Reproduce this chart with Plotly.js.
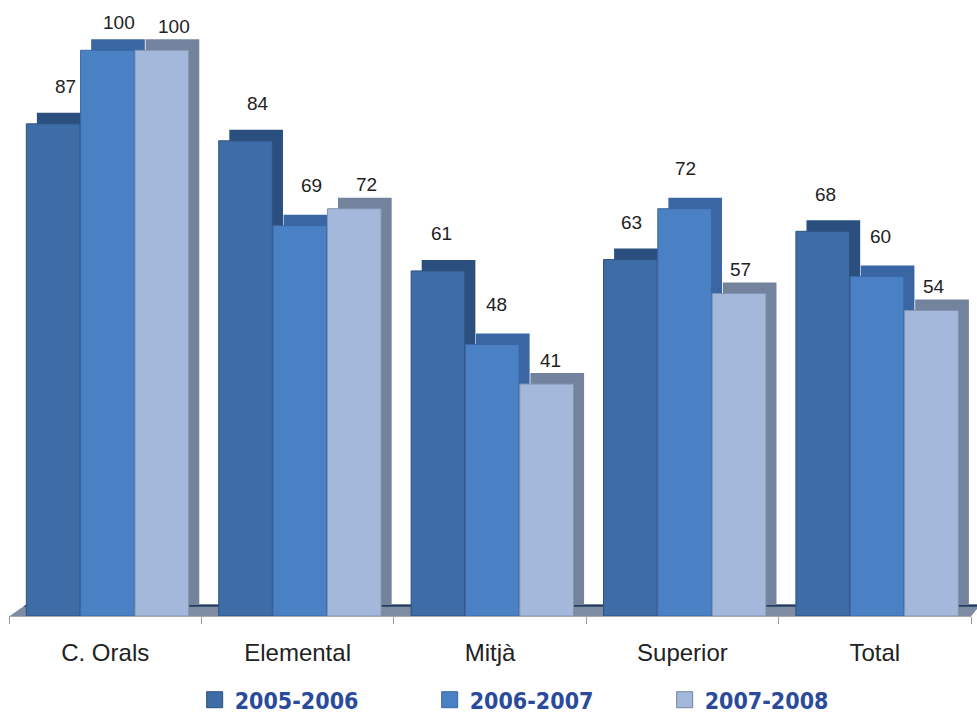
<!DOCTYPE html>
<html>
<head>
<meta charset="utf-8">
<script src="https://cdn.plot.ly/plotly-3.0.1.min.js"></script>
<style>html,body{margin:0;padding:0;background:#fff;}#chart{width:977px;height:715px;}</style>
</head>
<body>
<div id="chart"></div>
<script>
// ---- data ----
const categories = ["C. Orals", "Elemental", "Mitjà", "Superior", "Total"];
const seriesNames = ["2005-2006", "2006-2007", "2007-2008"];
const values2005 = [87, 84, 61, 63, 68];
const values2006 = [100, 69, 48, 72, 60];
const values2007 = [100, 72, 41, 57, 54];

// ---- style ----
const seriesValues = [values2005, values2006, values2007];
const frontColors = ["#3E6CA6", "#4A80C4", "#A4B8DC"];
const depthColors = ["#2B4F7E", "#3A67A3", "#74839D"];
const lineColors = ["#2E5282", "#3B68A4", "#8494B0"];
const offsets = [-0.41, -0.128, 0.155];
const barW = 0.279;
const dx = 0.055;   // depth shift (category units)
const dy = 1.95;    // depth shift (value units)
const yMax = 105;
const marginT = 22, plotH = 594;
const pxPerUnit = plotH / yMax;
const labelLift = [37, 40, 24];          // label centre above front top, px, per series
const perspShift = [12, 12, 4, 1, 3];    // perspective x-shift of labels, px, per category
const minLabelCentre = 22;               // keep labels inside the top of the picture

const traces = [];
const annotations = [];
seriesValues.forEach((vals, s) => {
  traces.push({
    type: "bar", x: categories, y: vals, base: dy,
    offset: offsets[s] + dx, width: barW,
    marker: {color: depthColors[s], line: {width: 0}},
    showlegend: false, hoverinfo: "skip"
  });
  traces.push({
    type: "bar", x: categories, y: vals, name: seriesNames[s],
    offset: offsets[s], width: barW,
    marker: {color: frontColors[s], line: {width: 1, color: lineColors[s]}},
    showlegend: false
  });
  vals.forEach((v, i) => {
    const frontTop = marginT + (yMax - v) * pxPerUnit;
    const lift = Math.min(labelLift[s], frontTop - minLabelCentre);
    annotations.push({
      x: i + offsets[s] + barW / 2, y: v, xref: "x", yref: "y",
      text: String(v), showarrow: false, yanchor: "middle",
      yshift: lift, xshift: perspShift[i],
      font: {family: "Liberation Sans, Arial, sans-serif", size: 19, color: "#222"}
    });
  });
});
// legend proxies
seriesNames.forEach((n, s) => {
  traces.push({
    type: "scatter", mode: "markers", x: [null], y: [null], name: n,
    marker: {symbol: "square", size: 18, color: frontColors[s], line: {width: 1, color: depthColors[s]}},
    showlegend: true
  });
});

const layout = {
  width: 977, height: 715,
  margin: {l: 9, r: 6, t: marginT, b: 715 - marginT - plotH, autoexpand: false},
  paper_bgcolor: "#fff", plot_bgcolor: "rgba(0,0,0,0)",
  barmode: "overlay",
  showlegend: true,
  legend: {
    orientation: "h", x: 0.193, xanchor: "left", y: -0.141, yanchor: "middle",
    entrywidth: 190, entrywidthmode: "pixels", itemsizing: "trace",
    font: {family: "DejaVu Sans Condensed, Liberation Sans Narrow, sans-serif", size: 23, color: "#2A4B9B", weight: "bold"}
  },
  xaxis: {
    type: "category", range: [-0.5, 4.5], tickson: "boundaries",
    ticks: "outside", ticklen: 7, tickcolor: "#9A9A9A", tickwidth: 1,
    showline: true, linecolor: "#A8A8A8", linewidth: 1,
    showgrid: false, zeroline: false,
    tickfont: {family: "Liberation Sans, Arial, sans-serif", size: 24, color: "#222"},
    ticklabelstandoff: 15
  },
  yaxis: {range: [0, yMax], visible: false, showgrid: false, zeroline: false},
  shapes: [{
    type: "path", xref: "paper", yref: "paper", layer: "below",
    path: "M 0,-0.001 L 0.018,0.0195 L 1.01,0.0195 L 1.0,-0.001 Z",
    fillcolor: "#7D8CA3", line: {width: 0}
  }, {
    type: "path", xref: "paper", yref: "paper", layer: "below",
    path: "M 0.018,0.0195 L 1.01,0.0195 L 1.008,0.0155 L 0.015,0.0155 Z",
    fillcolor: "#253E5E", line: {width: 0}
  }],
  annotations: annotations
};

Plotly.newPlot("chart", traces, layout, {displayModeBar: false, staticPlot: true});
</script>
</body>
</html>
